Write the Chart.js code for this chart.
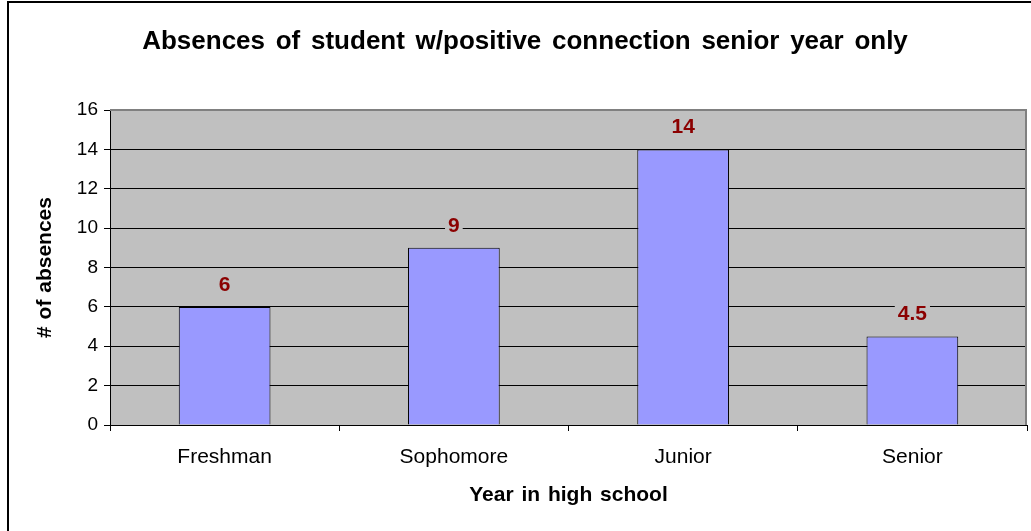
<!DOCTYPE html>
<html>
<head>
<meta charset="utf-8">
<script src="https://cdn.jsdelivr.net/npm/chart.js@4.4.1/dist/chart.umd.min.js"></script>
<style>
  html, body { margin: 0; padding: 0; background: #fff; overflow: hidden; }
  #wrap { position: relative; width: 1031px; height: 531px; }
  #frame { position: absolute; left: 7px; top: 1px; width: 1100px; height: 600px; border: 2px solid #000; box-sizing: border-box; }
  #revenueChart { position: absolute; left: 0; top: 0; }
</style>
</head>
<body>
<div id="wrap">
  <div id="frame"></div>
  <canvas id="revenueChart" width="1031" height="531"></canvas>
</div>
<script>
// chart values
const categories = ['Freshman', 'Sophomore', 'Junior', 'Senior'];
const absences = [6, 9, 14, 4.5];
const yTicks = [0, 2, 4, 6, 8, 10, 12, 14, 16];
const chartTitle = 'Absences of student w/positive connection senior year only';
const xTitle = 'Year in high school';
const yTitle = '# of absences';

const FONT = '"Liberation Sans", Arial, sans-serif';

function spacedText(ctx, txt, x, y, font, letter, word) {
    ctx.font = font;
    ctx.letterSpacing = letter + 'px';
    ctx.wordSpacing = word + 'px';
    ctx.fillText(txt, x, y);
}

// gray plot area, border on top/right, and the titles (excel puts wider gaps between words)
const plotArea = {
    id: 'plotArea',
    beforeDraw(chart) {
        const { ctx, chartArea: a } = chart;
        ctx.save();
        ctx.fillStyle = '#C0C0C0';
        ctx.fillRect(a.left, a.top, a.right - a.left, a.bottom - a.top);
        ctx.restore();
    },
    afterDraw(chart) {
        const { ctx, chartArea: a } = chart;
        ctx.save();
        ctx.strokeStyle = '#808080';
        ctx.lineWidth = 2;
        ctx.beginPath();
        ctx.moveTo(a.left, a.top);
        ctx.lineTo(a.right - 1, a.top);
        ctx.lineTo(a.right - 1, a.bottom);
        ctx.stroke();

        ctx.fillStyle = '#000';
        ctx.textAlign = 'center';
        ctx.textBaseline = 'middle';
        spacedText(ctx, chartTitle, 525, 42, 'bold 26px ' + FONT, 0, 3.5);
        spacedText(ctx, xTitle, (a.left + a.right) / 2, 495, 'bold 21px ' + FONT, 0, 2);
        ctx.translate(45, (a.top + a.bottom) / 2);
        ctx.rotate(-Math.PI / 2);
        spacedText(ctx, yTitle, 0, 0, 'bold 21px ' + FONT, 0, 1);
        ctx.restore();
    }
};

// value labels above bars, gray box hides gridline behind them
const valueLabels = {
    id: 'valueLabels',
    afterDatasetsDraw(chart) {
        const { ctx } = chart;
        const meta = chart.getDatasetMeta(0);
        ctx.save();
        ctx.font = 'bold 21px ' + FONT;
        ctx.textAlign = 'center';
        ctx.textBaseline = 'middle';
        meta.data.forEach((bar, i) => {
            const txt = String(absences[i]);
            const y = bar.y - 23;
            const w = ctx.measureText(txt).width + 6;
            ctx.fillStyle = '#C0C0C0';
            ctx.fillRect(bar.x - w / 2, y - 10, w, 20);
            ctx.fillStyle = '#8B0000';
            ctx.fillText(txt, bar.x, y + 1);
        });
        ctx.restore();
    }
};

const ctx = document.getElementById('revenueChart').getContext('2d');
new Chart(ctx, {
    type: 'bar',
    data: {
        labels: categories,
        datasets: [{
            data: absences,
            backgroundColor: '#9999FF',
            borderColor: '#000000',
            borderWidth: 1,
            categoryPercentage: 1,
            barPercentage: 0.4
        }]
    },
    plugins: [plotArea, valueLabels],
    options: {
        responsive: false,
        animation: false,
        devicePixelRatio: 1,
        layout: { padding: { left: 33, right: 4, top: 110, bottom: 24 } },
        plugins: {
            legend: { display: false },
            tooltip: { enabled: false },
            title: { display: false }
        },
        scales: {
            x: {
                grid: { drawOnChartArea: false, drawTicks: true, tickLength: 6, color: '#000', offset: true },
                border: { color: '#000', width: 1 },
                ticks: { color: '#000', padding: 14, font: { family: FONT, size: 21 } },
                afterFit(scale) { scale.height = 82; }
            },
            y: {
                min: 0,
                max: 16,
                afterBuildTicks(scale) { scale.ticks = yTicks.map(v => ({ value: v })); },
                grid: { color: '#000', lineWidth: 1, tickLength: 6 },
                border: { color: '#000', width: 1 },
                ticks: { color: '#000', padding: 6, font: { family: FONT, size: 19 } },
                afterFit(scale) { scale.width = 77; }
            }
        }
    }
});
</script>
</body>
</html>
